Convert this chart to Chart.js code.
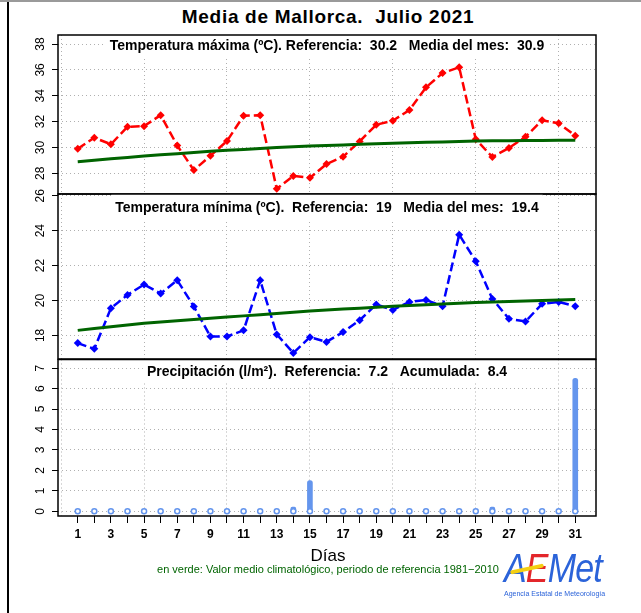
<!DOCTYPE html>
<html>
<head>
<meta charset="utf-8">
<script src="https://cdn.jsdelivr.net/npm/chart.js@4.4.0/dist/chart.umd.min.js"></script>
<style>
  body { margin: 0; background: #fff; font-family: "Liberation Sans", Arial, sans-serif; }
  #page { position: relative; width: 641px; height: 613px; overflow: hidden; background: #fff; }
  #topline { position: absolute; left: 0; top: 0; width: 641px; height: 2px; background: #9a9a9a; }
  #leftline { position: absolute; left: 7px; top: 2px; width: 1.5px; height: 611px; background: #000; }
  canvas { position: absolute; left: 0; }
  #title { position: absolute; left: 0; width: 656px; top: 6px; text-align: center; font-weight: bold; font-size: 19px; letter-spacing: 0.7px; white-space: pre; }
  #xtitle { position: absolute; left: 0; width: 656px; top: 546px; text-align: center; font-size: 17px; }
  #note { position: absolute; left: 0; width: 656px; top: 563px; text-align: center; font-size: 11px; color: #006400; white-space: pre; }
  #logo { position: absolute; left: 504px; top: 546px; width: 100px; height: 60px; }
  #logo .word { position: absolute; left: 0; top: 0; font-size: 40px; font-style: italic; color: #2b63d9; transform: scaleX(0.85); transform-origin: left top; letter-spacing: -1px; }
  #logo .e { color: #e3262b; }
  #swoosh { position: absolute; left: 6px; top: 21px; width: 34px; height: 4px; background: #f4cf12; border-radius: 3px; transform: rotate(-12deg); }
  #agency { position: absolute; left: 0; top: 44px; font-size: 7px; color: #2b63d9; white-space: nowrap; }
</style>
</head>
<body>
<div id="page">
  <div id="topline"></div>
  <div id="leftline"></div>
  <div id="title">Media de Mallorca.  Julio 2021</div>
  <canvas id="cMax" width="641" height="169" style="top:30px"></canvas>
  <canvas id="cMin" width="641" height="175" style="top:189px"></canvas>
  <canvas id="cPre" width="641" height="200" style="top:354px"></canvas>
  <div id="xtitle">Días</div>
  <div id="note">en verde: Valor medio climatológico, periodo de referencia 1981−2010</div>
  <div id="logo">
    <div class="word">A<span class="e">E</span>Met</div>
    <div id="swoosh"></div>
    <div id="agency">Agencia Estatal de Meteorología</div>
  </div>
</div>
<script>
// data
const days = [1,2,3,4,5,6,7,8,9,10,11,12,13,14,15,16,17,18,19,20,21,22,23,24,25,26,27,28,29,30,31];
const tmax = [29.9,30.75,30.25,31.6,31.65,32.5,30.15,28.25,29.35,30.5,32.45,32.5,26.8,27.8,27.65,28.72,29.28,30.47,31.76,32.07,32.9,34.65,35.76,36.2,30.63,29.26,29.96,30.83,32.1,31.87,30.91];
const tmaxRef = [28.90,29.01,29.12,29.23,29.34,29.43,29.52,29.61,29.70,29.78,29.85,29.92,29.99,30.05,30.11,30.15,30.19,30.24,30.28,30.32,30.36,30.40,30.43,30.47,30.50,30.51,30.52,30.53,30.54,30.55,30.55];
const tmin = [17.56,17.23,19.56,20.32,20.91,20.4,21.16,19.66,17.94,17.94,18.29,21.16,18.06,17.0,17.9,17.63,18.19,18.87,19.77,19.46,19.92,20.03,19.67,23.77,22.25,20.09,18.95,18.8,19.81,19.92,19.67];
const tminRef = [18.29,18.40,18.50,18.60,18.70,18.77,18.84,18.91,18.98,19.05,19.12,19.19,19.26,19.33,19.40,19.45,19.51,19.56,19.62,19.67,19.71,19.75,19.80,19.84,19.88,19.91,19.94,19.97,20.00,20.03,20.06];
const prec = [0,0,0,0,0,0,0,0,0,0,0,0,0,0.2,1.5,0,0,0,0,0,0,0,0,0,0,0.2,0,0,0,0,6.5];

const tmaxTicks = [28,30,32,34,36,38];
const tminTicks = [18,20,22,24,26];
const precTicks = [0,1,2,3,4,5,6,7];
const gridDays = [0,5,10,15,20,25,30];
const xTicks = [0,1,2,3,4,5,6,7,8,9,10,11,12,13,14,15,16,17,18,19,20,21,22,23,24,25,26,27,28,29,30,31];

const titles = [
  'Temperatura máxima (ºC). Referencia:  30.2   Media del mes:  30.9',
  'Temperatura mínima (ºC).  Referencia:  19   Media del mes:  19.4',
  'Precipitación (l/m²).  Referencia:  7.2   Acumulada:  8.4'
];

const FONT = '"Liberation Sans", Arial, sans-serif';
const GRID = '#b0b0b0';
const NONE = 'rgba(0,0,0,0)';
Chart.defaults.font.family = FONT;
Chart.defaults.color = '#000';

const pts = vals => days.map((d, i) => ({ x: d, y: vals[i] }));

// white box + title at the top of each panel, then the frame
const panel = {
  id: 'panel',
  beforeDatasetsDraw(chart, args, o) {
    const { ctx, chartArea: a } = chart;
    const cx = (a.left + a.right) / 2;
    ctx.save();
    ctx.font = 'bold 14px ' + FONT;
    const w = ctx.measureText(o.title).width;
    ctx.fillStyle = '#fff';
    ctx.fillRect(cx - w / 2 - 4, a.top, w + 8, o.boxH);
    ctx.fillStyle = '#000';
    ctx.textAlign = 'center';
    ctx.textBaseline = 'middle';
    ctx.fillText(o.title, cx, a.top + o.titleY);
    ctx.restore();
  },
  afterDraw(chart) {
    const { ctx, chartArea: a } = chart;
    ctx.save();
    ctx.strokeStyle = '#000';
    ctx.lineWidth = 1.5;
    ctx.strokeRect(a.left, a.top, a.right - a.left, a.bottom - a.top);
    ctx.restore();
  }
};

function yScale(min, max, ticks, pad) {
  return {
    min: min, max: max,
    afterBuildTicks: s => { s.ticks = ticks.map(v => ({ value: v })); },
    afterFit: s => { s.width = 58; s.paddingTop = 0; s.paddingBottom = 0; },
    grid: { color: GRID, tickColor: '#000', tickLength: 6, tickBorderDash: [] },
    border: { display: false, dash: [1, 3] },
    ticks: { minRotation: 90, maxRotation: 90, crossAlign: 'center', padding: pad, font: { size: 12 } }
  };
}

function xScale(bottom) {
  const s = {
    type: 'linear', min: -0.19, max: 32.25, offset: false,
    border: { display: false, dash: [1, 3] }
  };
  if (!bottom) {
    s.afterBuildTicks = sc => { sc.ticks = gridDays.map(v => ({ value: v })); };
    s.afterFit = sc => { sc.height = 0; sc.paddingLeft = 0; sc.paddingRight = 0; };
    s.grid = { color: GRID, drawTicks: false, offset: false };
    s.ticks = { display: false };
  } else {
    s.afterBuildTicks = sc => { sc.ticks = xTicks.map(v => ({ value: v })); };
    s.afterFit = sc => { sc.height = 33; sc.paddingLeft = 0; sc.paddingRight = 0; };
    s.grid = {
      offset: false,
      color: c => (c.tick && gridDays.includes(c.tick.value)) ? GRID : NONE,
      tickColor: c => (c.tick && c.tick.value >= 1) ? '#000' : NONE,
      tickLength: 7, tickBorderDash: []
    };
    s.ticks = {
      autoSkip: false, maxRotation: 0, padding: 4,
      font: { size: 12, weight: 'bold' },
      callback: v => (v >= 1 && v % 2 === 1) ? String(v) : ''
    };
  }
  return s;
}

function baseOptions(title, titleY, boxH, y, x, bottomPad) {
  return {
    responsive: false,
    animation: false,
    events: [],
    layout: { padding: { left: 0, right: 45, top: 5, bottom: bottomPad } },
    plugins: {
      legend: { display: false },
      tooltip: { enabled: false },
      panel: { title: title, titleY: titleY, boxH: boxH }
    },
    scales: { x: x, y: y }
  };
}

function tempChart(id, vals, ref, color, range, ticks, title, titleY, boxH) {
  new Chart(document.getElementById(id), {
    type: 'line',
    data: {
      datasets: [
        {
          data: pts(ref), borderColor: '#006400', borderWidth: 3,
          pointRadius: 0, order: 0
        },
        {
          data: pts(vals), borderColor: color, borderWidth: 2.5, borderDash: [9, 4],
          pointStyle: 'rectRot', pointRadius: 4, pointBackgroundColor: color,
          pointBorderColor: color, pointBorderWidth: 0, order: 1
        }
      ]
    },
    options: baseOptions(title, titleY, boxH, yScale(range[0], range[1], ticks, 5), xScale(false), 5),
    plugins: [panel]
  });
}

tempChart('cMax', tmax, tmaxRef, '#ff0000', [26.4, 38.7], tmaxTicks, titles[0], 11.5, 21);
tempChart('cMin', tmin, tminRef, '#0000ff', [16.65, 26.1], tminTicks, titles[1], 14, 26);

new Chart(document.getElementById('cPre'), {
  type: 'bar',
  data: {
    datasets: [
      {
        type: 'line', data: days.map(d => ({ x: d, y: 0 })), showLine: false,
        pointRadius: 2.5, pointBorderWidth: 1.5, pointBorderColor: '#6495ed',
        pointBackgroundColor: '#fff', order: 0
      },
      {
        type: 'bar', data: pts(prec), backgroundColor: '#6495ed',
        barThickness: 5, borderRadius: { topLeft: 2.5, topRight: 2.5 }, borderSkipped: 'start', order: 1
      }
    ]
  },
  options: baseOptions(titles[2], 12.5, 22, yScale(-0.23, 7.42, precTicks, 8), xScale(true), 5),
  plugins: [panel]
});
</script>
</body>
</html>
